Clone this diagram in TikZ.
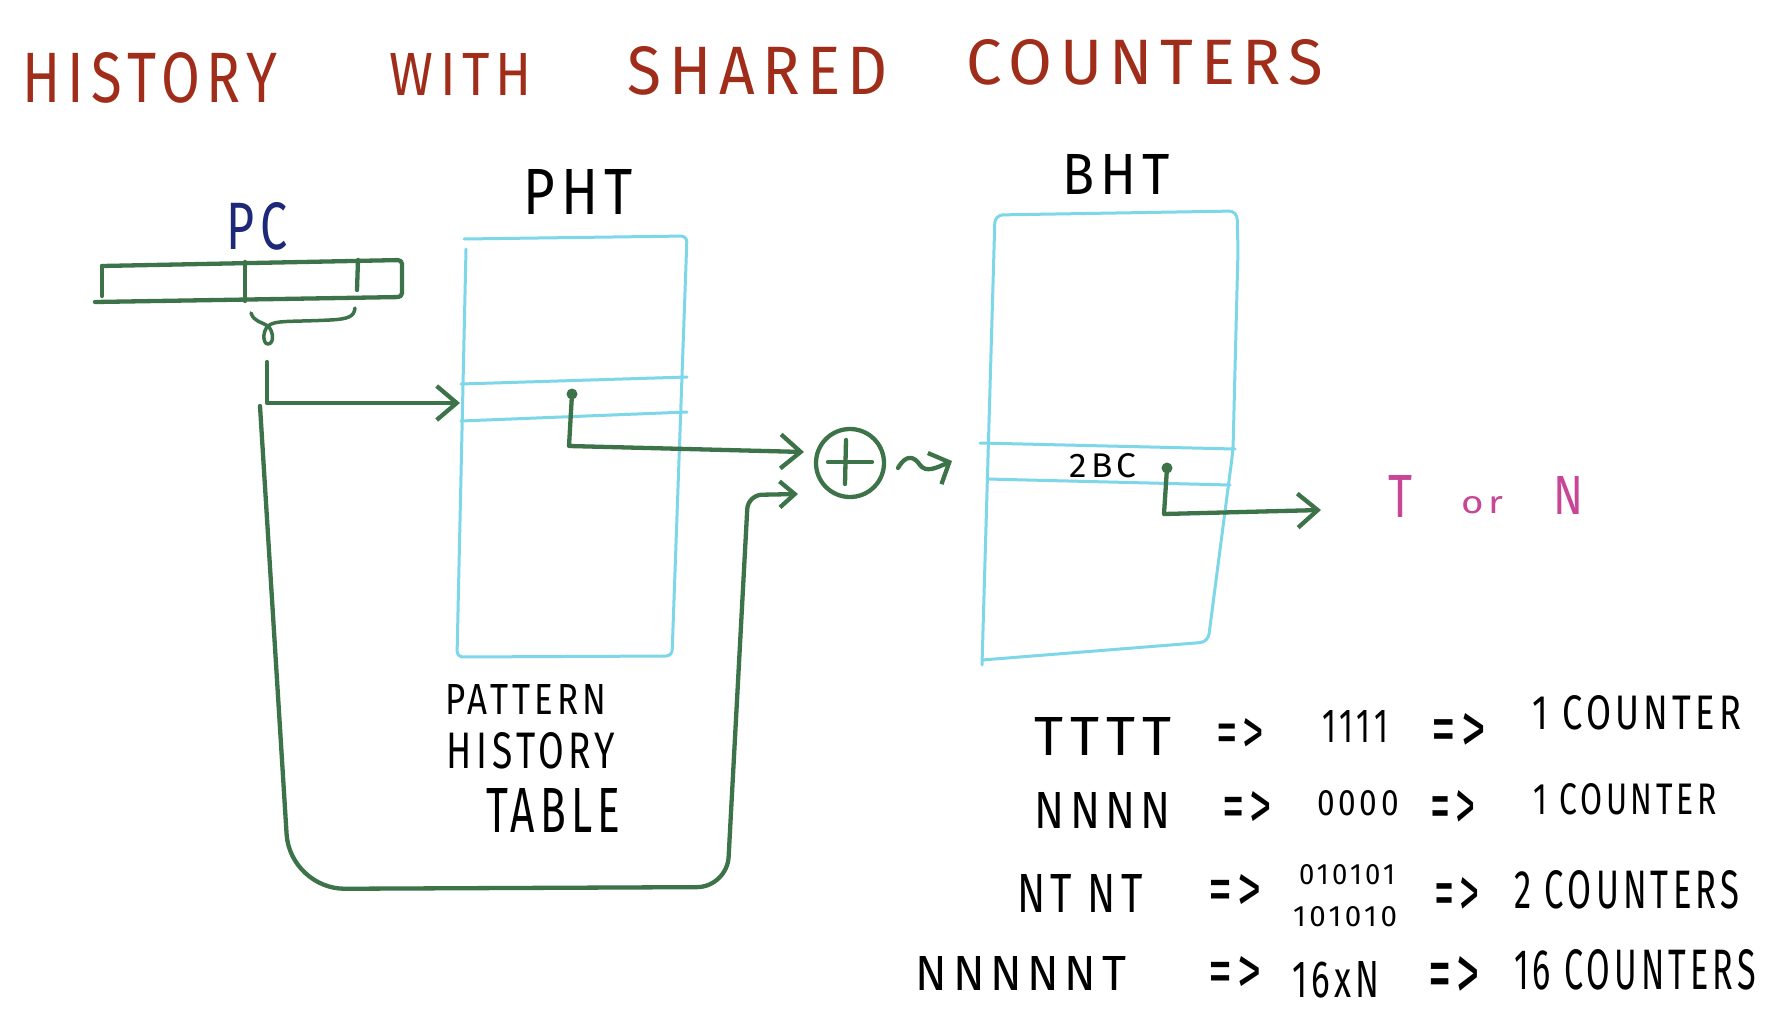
\documentclass[tikz,border=0pt]{standalone}
\usepackage{fontspec}
\usepackage{graphicx}
\setmainfont{Fira Sans}
\newfontfamily\hand[LetterSpace=12]{Fira Sans}
\usetikzlibrary{arrows.meta}
\definecolor{titlered}{RGB}{160,45,25}
\definecolor{pcblue}{RGB}{30,40,120}
\definecolor{grn}{RGB}{60,115,72}
\definecolor{cyanl}{RGB}{125,215,232}
\definecolor{mag}{RGB}{200,70,150}
\newcommand\fitt[3]{\resizebox{#1pt}{#2pt}{\hand #3}}
\tikzset{
  gline/.style={draw=grn, line width=4.3pt, line cap=round, line join=round},
  cline/.style={draw=cyanl, line width=3pt, line cap=round, line join=round},
  txt/.style={inner sep=0pt, outer sep=0pt, anchor=center},
  tipA/.style={-{Straight Barb[length=20pt,width=34pt]}},
  tipB/.style={-{Straight Barb[length=15pt,width=26pt]}},
  tipC/.style={-{Straight Barb[length=16pt,width=34pt]}},
}
\begin{document}
\begin{tikzpicture}[x=1pt,y=-1pt]
\useasboundingbox (0,0) rectangle (1774,1030);
\fill[white] (0,0) rectangle (1774,1030);

% title
\node[txt,text=titlered] (t1) at (150,78) {\fitt{254}{50}{HISTORY}};
\node[txt,text=titlered] (t2) at (461,74) {\fitt{142}{42}{WITH}};
\node[txt,text=titlered] (t3) at (758,71) {\fitt{260}{48}{SHARED}};
\node[txt,text=titlered] (t4) at (1145,62) {\fitt{356}{45}{COUNTERS}};

% PC register
\node[txt,text=pcblue] (pc) at (257,226) {\fitt{61}{47}{PC}};
\draw[gline, rounded corners=4] (102,266) -- (402,260) -- (402,297) -- (95,302);
\draw[gline] (102,266) -- (102,296);
\draw[gline] (245,262) -- (245,301);
\draw[gline] (358,260) -- (357,290);
% brace
\draw[gline, line width=3.5pt] (251,313) .. controls (254,322) and (262,322) .. (268,326)
  .. controls (262,332) and (263,344) .. (268,344)
  .. controls (274,344) and (274,332) .. (268,326)
  .. controls (275,320) and (290,322) .. (330,320)
  .. controls (350,319) and (354,316) .. (355,308);

% PHT
\node[txt] (phtl) at (578,192) {\fitt{110}{45}{PHT}};
\draw[cline, rounded corners=6] (464,239) -- (687,236) -- (672,656) -- (457,657) -- (466,249);
\draw[cline] (461,384) -- (687,377);
\draw[cline] (461,421) -- (687,412);
\node[txt] (pat1) at (526,699) {\fitt{161}{30}{PATTERN}};
\node[txt] (pat2) at (531,751) {\fitt{168}{36}{HISTORY}};
\node[txt] (pat3) at (553,810) {\fitt{134}{44}{TABLE}};

% BHT
\node[txt] (bhtl) at (1116,174) {\fitt{108}{40}{BHT}};
\draw[cline, rounded corners=8] (982,665) -- (995,215) -- (1237,211) -- (1238,250) -- (1233,450) -- (1208,642) -- (982,660);
\draw[cline] (980,443) -- (1235,449);
\draw[cline] (987,479) -- (1230,485);
\node[txt] (twobc) at (1103,466) {\fitt{67}{24}{2BC}};

% XOR
\node[circle, gline, minimum size=68pt, inner sep=0pt] (xor) at (850,463) {};
\draw[gline] (828,462) -- (872,462);
\draw[gline] (846,440) -- (845,484);

% connectors
\coordinate (idx) at (267,362);
\coordinate (phtin) at (460,403);
\draw[gline, tipA] (idx) |- (phtin);

\coordinate (fb) at (260,406);
\coordinate (xorin2) at (798,494);
\draw[gline, tipB] (fb) [rounded corners=55] -- (290,889) [rounded corners=30] -- (727,887) [rounded corners=14] -- (748,495) -- (xorin2);

\coordinate (phtdot) at (572,394);
\coordinate (xorin1) at (804,452);
\fill[grn] (phtdot) circle (5.5);
\draw[gline, tipA] (phtdot) -- (569,446) -- (xorin1);

\coordinate (sqs) at (898,468);
\coordinate (bhtin) at (952,461);
\draw[gline, tipC] (sqs) .. controls (906,454) and (914,456) .. (920,465) .. controls (926,473) and (936,468) .. (bhtin);

\coordinate (bhtdot) at (1167,468);
\coordinate (outp) at (1321,510);
\fill[grn] (bhtdot) circle (5.5);
\draw[gline, tipA] (bhtdot) -- (1164,514) -- (outp);

% T or N
\node[txt,text=mag] (oT) at (1400,496) {\fitt{24}{42}{T}};
\node[txt,text=mag] (oor) at (1482,505) {\fitt{42}{17}{or}};
\node[txt,text=mag] (oN) at (1568,495) {\fitt{30}{38}{N}};

% table
\node[txt] (r1a) at (1103,736) {\fitt{136}{38}{TTTT}};
\node[txt] (r1b) at (1240,736) {\fitt{48}{36}{=>}};
\node[txt] (r1c) at (1355,726) {\fitt{66}{32}{1111}};
\node[txt] (r1d) at (1459,733) {\fitt{55}{40}{=>}};
\node[txt] (r1e) at (1637,713) {\fitt{209}{34}{1 COUNTER}};

\node[txt] (r2a) at (1103,810) {\fitt{136}{36}{NNNN}};
\node[txt] (r2b) at (1247,810) {\fitt{50}{38}{=>}};
\node[txt] (r2c) at (1358,803) {\fitt{82}{25}{0000}};
\node[txt] (r2d) at (1453,810) {\fitt{45}{40}{=>}};
\node[txt] (r2e) at (1625,799) {\fitt{184}{31}{1 COUNTER}};

\node[txt] (r3a) at (1080,893) {\fitt{125}{38}{NT NT}};
\node[txt] (r3b) at (1235,893) {\fitt{54}{38}{=>}};
\node[txt] (r3c) at (1347,875) {\fitt{96}{20}{010101}};
\node[txt] (r3c2) at (1345,917) {\fitt{104}{20}{101010}};
\node[txt] (r3d) at (1457,897) {\fitt{45}{40}{=>}};
\node[txt] (r3e) at (1627,890) {\fitt{225}{38}{2 COUNTERS}};

\node[txt] (r4a) at (1021,973) {\fitt{210}{34}{NNNNNT}};
\node[txt] (r4b) at (1235,975) {\fitt{54}{38}{=>}};
\node[txt] (r4c) at (1336,980) {\fitt{87}{36}{16xN}};
\node[txt] (r4d) at (1454,978) {\fitt{52}{44}{=>}};
\node[txt] (r4e) at (1635,970) {\fitt{242}{40}{16 COUNTERS}};
\end{tikzpicture}
\end{document}
